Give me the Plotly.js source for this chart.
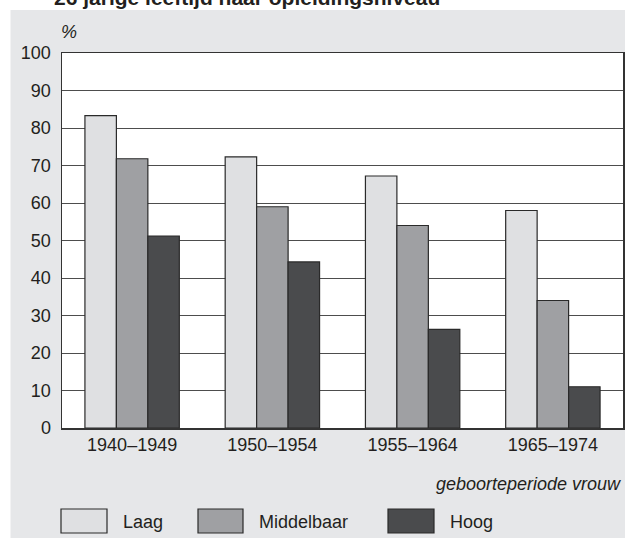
<!DOCTYPE html>
<html>
<head>
<meta charset="utf-8">
<script src="https://cdn.plot.ly/plotly-3.0.1.min.js"></script>
<style>html,body{margin:0;padding:0;background:#fff;}#chart{width:625px;height:538px;}</style>
</head>
<body>
<div id="chart"></div>
<script>
const categories = ['1940–1949', '1950–1954', '1955–1964', '1965–1974'];
const seriesNames = ['Laag', 'Middelbaar', 'Hoog'];
const laag = [83.3, 72.3, 67.2, 58.0];
const middelbaar = [71.8, 59.0, 54.0, 34.0];
const hoog = [51.2, 44.3, 26.3, 11.0];
const yTicks = [0, 10, 20, 30, 40, 50, 60, 70, 80, 90, 100];
const titleText = '26 jarige leeftijd naar opleidingsniveau';
const xTitle = 'geboorteperiode vrouw';
const yTitle = '%';

const colors = ['#dfe0e2', '#9fa0a3', '#4a4b4d'];
const edge = '#2a2a2a';
const txt = '#231f20';
const FONT = 'Liberation Sans, Arial, Helvetica, sans-serif';

// layout geometry (pixels)
const W = 625, H = 538;
const M = {l: 62, r: 2, t: 53, b: 110};
const PW = W - M.l - M.r, PH = H - M.t - M.b;
const px = x => (x - M.l) / PW;
const py = y => (H - M.b - y) / PH;

const values = [laag, middelbaar, hoog];
const traces = values.map((v, i) => ({
  type: 'bar', x: categories, y: v, name: seriesNames[i],
  marker: {color: colors[i], line: {color: edge, width: 1.2}},
  showlegend: false, hoverinfo: 'y'
}));

// legend geometry (pixels)
const legBoxes = [[61, 107], [198, 243], [388, 434]];
const legTop = 509, legBot = 533, legMid = 522;
const shapes = [
  {type: 'rect', xref: 'paper', yref: 'paper', x0: -0.3, x1: 1.2, y0: py(10), y1: 1.4, fillcolor: '#ffffff', line: {width: 0}, layer: 'above'},
  {type: 'rect', xref: 'paper', yref: 'paper', x0: -0.3, x1: px(10.5), y0: -0.5, y1: 1.4, fillcolor: '#ffffff', line: {width: 0}, layer: 'above'}
];
const annotations = [
  {text: '<b>' + titleText + '</b>', xref: 'paper', yref: 'paper', x: px(52), y: py(11), xanchor: 'left', yanchor: 'bottom', showarrow: false, font: {family: FONT, size: 21, color: txt}},
  {text: '<i>' + yTitle + '</i>', xref: 'paper', yref: 'paper', x: px(69), y: py(31.5), xanchor: 'center', yanchor: 'middle', showarrow: false, font: {family: FONT, size: 18, color: txt}},
  {text: '<i>' + xTitle + '</i>', xref: 'paper', yref: 'paper', x: px(623), y: py(484), xanchor: 'right', yanchor: 'middle', showarrow: false, font: {family: FONT, size: 18, color: txt}}
];
seriesNames.forEach((n, i) => {
  shapes.push({type: 'rect', xref: 'paper', yref: 'paper', x0: px(legBoxes[i][0]), x1: px(legBoxes[i][1]), y0: py(legBot), y1: py(legTop), fillcolor: colors[i], line: {color: edge, width: 1.2}, layer: 'above'});
  annotations.push({text: n, xref: 'paper', yref: 'paper', x: px(legBoxes[i][1] + 14), y: py(legMid), xanchor: 'left', yanchor: 'middle', showarrow: false, font: {family: FONT, size: 18, color: txt}});
});

const layout = {
  width: W, height: H,
  margin: M,
  paper_bgcolor: '#e6e7e9',
  plot_bgcolor: '#ffffff',
  barmode: 'group', bargap: 0.327, bargroupgap: 0,
  font: {family: FONT, size: 18, color: txt},
  xaxis: {
    type: 'category', range: [-0.5, 3.5], showgrid: false, zeroline: false,
    showline: true, mirror: true, linecolor: '#333333', linewidth: 1.5,
    ticks: '', tickfont: {family: FONT, size: 18, color: txt}, fixedrange: true
  },
  yaxis: {
    range: [0, 100], tickvals: yTicks, ticktext: yTicks.map(String),
    showgrid: true, gridcolor: '#4d4d4d', gridwidth: 1, zeroline: false,
    showline: true, mirror: true, linecolor: '#333333', linewidth: 1.5,
    ticks: '', ticklabelstandoff: 6, tickfont: {family: FONT, size: 18, color: txt}, fixedrange: true
  },
  shapes: shapes,
  annotations: annotations,
  showlegend: false
};

Plotly.newPlot('chart', traces, layout, {displayModeBar: false, staticPlot: true});
</script>
</body>
</html>
